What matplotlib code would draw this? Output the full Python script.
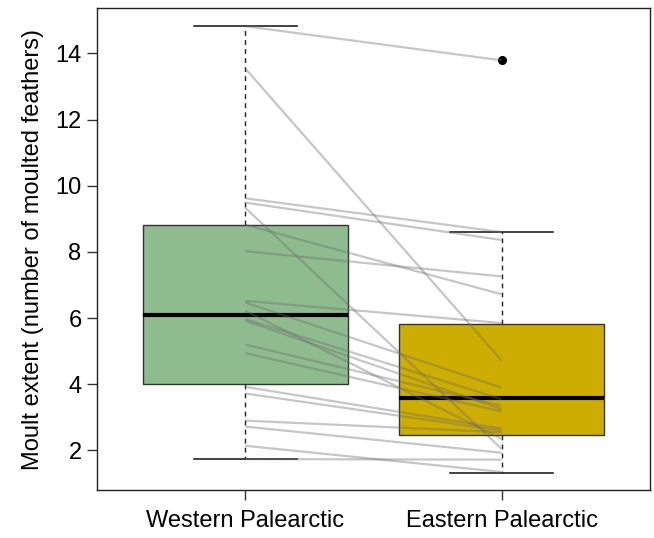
"""Paired moult extent: Western vs Eastern Palearctic, boxplot with per-species lines."""
import matplotlib

matplotlib.use("Agg")
import matplotlib.pyplot as plt

plt.rcParams["font.family"] = ["Liberation Sans", "DejaVu Sans"]

regions = ["Western Palearctic", "Eastern Palearctic"]
box_colors = ["#8FBC8F", "#CDAD00"]

# box statistics
whislo = [1.74, 1.33]
q1 = [4.0, 2.48]
med = [6.1, 3.57]
q3 = [8.82, 5.82]
whishi = [14.82, 8.6]
fliers = [[], [13.79]]

# paired values (one line per species)
west = [14.82, 13.54, 9.62, 9.49, 9.33, 8.82, 8.02, 6.52, 6.47, 6.22,
        5.97, 5.92, 5.20, 4.94, 3.92, 3.72, 2.90, 2.72, 2.14, 1.74]
east = [13.79, 4.72, 8.60, 8.36, 2.05, 6.72, 7.26, 5.85, 3.90, 2.35,
        3.55, 3.25, 3.35, 3.18, 2.66, 2.60, 2.55, 1.93, 1.35, 1.72]

fig = plt.figure(figsize=(6.54, 5.38), dpi=100)
ax = fig.add_axes([0.148, 0.089, 0.846, 0.896])

stats = []
for i in range(2):
    stats.append(dict(whislo=whislo[i], q1=q1[i], med=med[i], q3=q3[i],
                      whishi=whishi[i], fliers=fliers[i], label=regions[i]))

bp = ax.bxp(stats, positions=[1, 2], widths=0.8, patch_artist=True,
            boxprops=dict(edgecolor="#333333", linewidth=1.0),
            medianprops=dict(color="black", linewidth=3.0, solid_capstyle="butt"),
            whiskerprops=dict(color="#222222", linewidth=1.0, linestyle=(0, (3.5, 3))),
            capprops=dict(color="#222222", linewidth=1.2),
            capwidths=0.4,
            flierprops=dict(marker="o", markerfacecolor="black",
                            markeredgecolor="black", markersize=5.5))
for patch, c in zip(bp["boxes"], box_colors):
    patch.set_facecolor(c)

for w, e in zip(west, east):
    ax.plot([1, 2], [w, e], color=(0.42, 0.42, 0.42, 0.38), linewidth=1.6,
            solid_capstyle="butt", zorder=4)

ax.set_xlim(0.42, 2.58)
ax.set_ylim(0.8, 15.37)
ax.set_yticks([2, 4, 6, 8, 10, 12, 14])
ax.set_xticks([1, 2])
ax.set_xticklabels(regions)
ax.tick_params(axis="both", labelsize=17, length=7, width=1, color="#333333")
ax.tick_params(axis="x", pad=7)
ax.tick_params(axis="y", pad=4)
ax.set_ylabel("Moult extent (number of moulted feathers)", fontsize=17, labelpad=8)
for s in ax.spines.values():
    s.set_linewidth(1.0)
    s.set_color("#222222")

fig.savefig("out.png", dpi=100)
